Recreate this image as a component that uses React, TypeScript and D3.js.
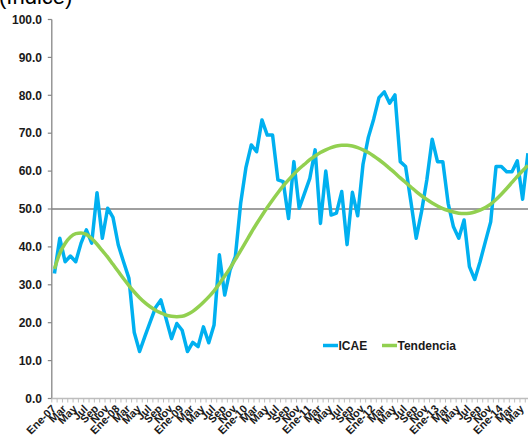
import React from "react";
import * as d3 from "d3";

const years = ["07", "08", "09", "10", "11", "12", "13", "14"];
const monthNames = ["Ene", "Feb", "Mar", "Abr", "May", "Jun", "Jul", "Ago", "Sep", "Oct", "Nov", "Dic"];

const icae = [
  33, 42.3, 36.1, 37.6, 36.1, 41, 44.5, 41, 54.3, 42.3, 50.2, 47.8,
  40.5, 36, 31.7, 17.4, 12.4, 16.4, 20.2, 24, 26, 21, 15.8, 19.8,
  18, 12.4, 14.8, 13.7, 18.9, 14.7, 19.4, 37.9, 27.3, 33.9, 37.4, 51.5,
  61, 66.9, 65.1, 73.5, 69.5, 69.5, 57.7, 57.2, 47.5, 62.5, 50.2, 54.1,
  58.1, 65.6, 46.2, 60, 48.4, 48.9, 54.6, 40.6, 54.4, 48.2, 61.8, 68.9,
  73.7, 79.4, 80.9, 77.9, 80.1, 62.5, 61.2, 51.9, 42.3, 49.3, 57.7, 68.4,
  62.5, 62.5, 51.5, 45.3, 42.3, 47.1, 34.8, 31.4, 36.1, 41.4, 46.6, 61.2,
  61.2, 59.8, 59.8, 62.7, 52.6, 64.7,
];

const tendencia = [
  34.2, 38.3, 40.9, 42.6, 43.5, 43.7, 43.3, 42.2, 40.7, 39.0, 37.3, 35.4,
  33.5, 31.6, 29.8, 28.1, 26.6, 25.3, 24.2, 23.3, 22.6, 22.0, 21.7, 21.6,
  21.7, 22.2, 23.0, 24.1, 25.4, 26.8, 28.4, 30.3, 32.3, 34.4, 36.7, 39.0,
  41.4, 43.8, 46.1, 48.3, 50.4, 52.4, 54.3, 56.1, 57.7, 59.2, 60.6, 61.8,
  63.0, 64.0, 64.9, 65.6, 66.2, 66.6, 66.8, 66.8, 66.6, 66.2, 65.6, 64.9,
  64.0, 63.0, 61.9, 60.7, 59.5, 58.2, 57.0, 55.8, 54.6, 53.5, 52.5, 51.6,
  50.8, 50.1, 49.6, 49.2, 48.9, 48.8, 48.9, 49.2, 49.7, 50.4, 51.3, 52.5,
  53.9, 55.4, 57.0, 58.6, 60.1, 61.5,
];

const yTicks = [0, 10, 20, 30, 40, 50, 60, 70, 80, 90, 100];
const referenceValue = 50;

const categories: string[] = icae.map((_, i) => {
  const m = i % 12;
  const y = years[Math.floor(i / 12)];
  return m === 0 ? `Ene-${y}` : monthNames[m];
});

export default function App() {
  const W = 528;
  const H = 443;
  const left = 51.8;
  const right = 530.6;
  const top = 19.5;
  const bottom = 398.5;

  const x = d3.scaleBand<number>().domain(d3.range(categories.length)).range([left, right]).padding(0);
  const cx = (i: number) => (x(i) as number) + x.bandwidth() / 2;
  const y = d3.scaleLinear().domain([0, 100]).range([bottom, top]);

  const line = d3
    .line<number>()
    .x((_, i) => cx(i))
    .y((d) => y(d));
  const smooth = d3
    .line<number>()
    .x((_, i) => cx(i))
    .y((d) => y(d))
    .curve(d3.curveMonotoneX);

  const font = "'Liberation Sans', Arial, sans-serif";

  return (
    <svg
      width={W}
      height={H}
      style={{ position: "absolute", left: 0, top: 0, background: "#fff" }}
      fontFamily={font}
    >
      <text x={-1} y={4} fontSize={22} fill="#000">
        (Índice)
      </text>

      {/* reference line at 50 */}
      <line x1={left} x2={W} y1={y(referenceValue)} y2={y(referenceValue)} stroke="#404040" strokeWidth={1} />

      {/* y axis */}
      <line x1={left} x2={left} y1={top} y2={bottom} stroke="#868686" strokeWidth={1.3} />
      {yTicks.map((t) => (
        <g key={t}>
          <line x1={left - 4} x2={left} y1={y(t)} y2={y(t)} stroke="#868686" strokeWidth={1.2} />
          <text
            x={42}
            y={y(t)}
            dy="0.35em"
            textAnchor="end"
            fontSize={12}
            fontWeight="bold"
            fill="#1a1a1a"
          >
            {t.toFixed(1)}
          </text>
        </g>
      ))}

      {/* x axis */}
      <line x1={left} x2={right} y1={bottom} y2={bottom} stroke="#bdbdbd" strokeWidth={1.3} />
      {categories.map((c, i) => (
        <line
          key={"t" + i}
          x1={(x(i) as number)}
          x2={(x(i) as number)}
          y1={bottom}
          y2={bottom + 4}
          stroke="#bdbdbd"
          strokeWidth={1}
        />
      ))}
      {categories.map((c, i) =>
        i % 2 === 0 ? (
          <text
            key={"l" + i}
            transform={`translate(${cx(i) + 2},${bottom + 11}) rotate(-45)`}
            textAnchor="end"
            fontSize={11}
            fontWeight="bold"
            fill="#1a1a1a"
          >
            {c}
          </text>
        ) : null
      )}

      {/* series */}
      <path d={line(icae) || ""} fill="none" stroke="#00B0F0" strokeWidth={3.5} strokeLinejoin="round" />
      <path d={smooth(tendencia) || ""} fill="none" stroke="#92D050" strokeWidth={3.5} strokeLinejoin="round" />

      {/* legend */}
      <line x1={323} x2={338} y1={345.5} y2={345.5} stroke="#00B0F0" strokeWidth={3.5} />
      <text x={338.5} y={345.5} dy="0.35em" fontSize={12} fontWeight="bold" fill="#1a1a1a">
        ICAE
      </text>
      <line x1={382} x2={397} y1={345.5} y2={345.5} stroke="#92D050" strokeWidth={3.5} />
      <text x={397.5} y={345.5} dy="0.35em" fontSize={12} fontWeight="bold" fill="#1a1a1a">
        Tendencia
      </text>
    </svg>
  );
}
